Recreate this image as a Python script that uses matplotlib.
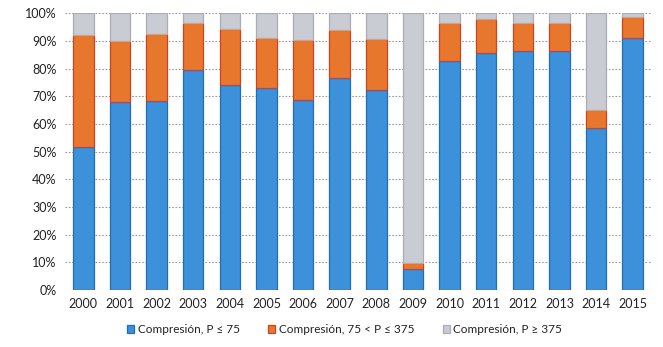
import matplotlib
matplotlib.use("Agg")
import matplotlib.pyplot as plt
from matplotlib.ticker import FuncFormatter, MultipleLocator
import numpy as np

plt.rcParams['font.family'] = ['Lato', 'DejaVu Sans']

years = [str(y) for y in range(2000, 2016)]
# share of each category, in percent
low = [51.6, 67.8, 68.2, 79.5, 74.0, 73.1, 68.6, 76.6, 72.3, 7.5, 82.6, 85.6, 86.3, 86.2, 58.6, 90.9]
mid = [40.7, 22.1, 24.4, 16.9, 20.3, 17.9, 21.8, 17.4, 18.3, 2.2, 14.0, 12.4, 10.2, 10.2, 6.3, 7.7]
high = [100 - a - b for a, b in zip(low, mid)]

labels = ["Compresión, P \u2264 75", "Compresión, 75 < P \u2264 375", "Compresión, P \u2265 375"]
faces = ["#3d90da", "#e8772e", "#c9ccd2"]
edges = ["#1f6fb8", "#d2401e", "#a9adb5"]

fig = plt.figure(figsize=(6.63, 3.47), dpi=100)
ax = fig.add_axes([0.098, 0.164, 0.884, 0.798])

x = np.arange(len(years))
w = 0.56
bottom = np.zeros(len(years))
for vals, fc, ec, lab in zip([low, mid, high], faces, edges, labels):
    ax.bar(x, vals, w, bottom=bottom, color=fc, edgecolor=ec, linewidth=0.9,
           label=lab, zorder=3)
    bottom += np.array(vals)

ax.set_xlim(-0.5, len(years) - 0.5)
ax.set_ylim(0, 100)
ax.yaxis.set_major_locator(MultipleLocator(10))
ax.yaxis.set_major_formatter(FuncFormatter(lambda v, p: f"{v:.0f}%"))
ax.set_xticks(x)
ax.set_xticklabels(years)
ax.grid(axis='y', color='#9a9a9a', linestyle=(0, (1.5, 1.5)), linewidth=0.8, zorder=0)
for s in ax.spines.values():
    s.set_visible(False)
ax.tick_params(length=0, labelsize=9, colors='#222222', pad=6)

leg = fig.legend(loc='center', bbox_to_anchor=(0.52, 0.05), ncol=3, frameon=False,
                 fontsize=8.5, handlelength=0.6, handleheight=0.6, handletextpad=0.3,
                 columnspacing=2.4)
for t in leg.get_texts():
    t.set_color('#222222')

fig.savefig("out.png", dpi=100)
